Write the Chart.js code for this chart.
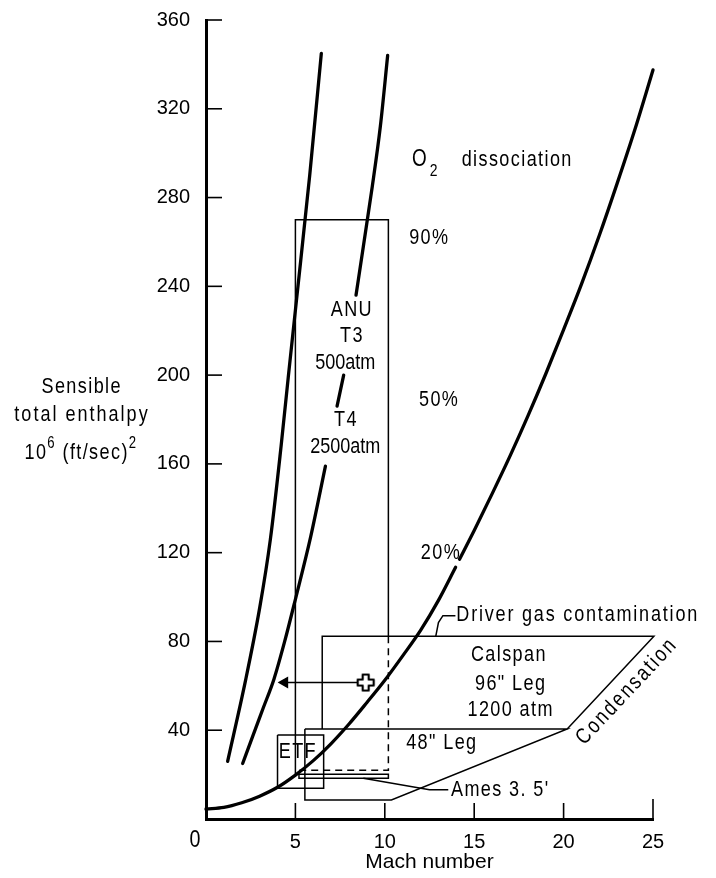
<!DOCTYPE html>
<html><head><meta charset="utf-8">
<script src="https://cdn.jsdelivr.net/npm/chart.js@4.4.1/dist/chart.umd.min.js"></script>
<style>html,body{margin:0;padding:0;background:#fff}canvas{display:block}</style>
</head><body>
<canvas id="c" width="716" height="878"></canvas>
<script>
const FONT = '"Liberation Sans", Arial, sans-serif';
const NARROW = 0.82;

// axes
const machTicks = [0, 5, 10, 15, 20, 25];
const enthalpyTicks = [0, 40, 80, 120, 160, 200, 240, 280, 320, 360];

// heavy curves (Mach number, sensible total enthalpy)
const curveAMach = [1.21, 2.2, 3.0, 3.6, 4.2, 4.6, 5.05, 5.8, 6.45];
const curveAH    = [26, 62, 95, 126, 168, 199, 233, 290, 345];
const curveBMach = [2.05, 2.6, 3.2, 3.8, 4.4, 5.0, 5.85, 6.68, 7.0, 7.33, 7.7, 8.0, 8.39, 8.8, 9.3, 9.75, 10.16];
const curveBH    = [25, 37, 50, 63, 80, 99, 127, 159, null, 186, 200, null, 236, 258, 285, 312, 344];
const mainMach = [0, 1, 2, 3, 4, 5, 6, 7, 8, 9, 10, 11, 12, 13, 13.96, 14.07, 14.18, 15, 16, 17, 18, 19, 20, 21, 22, 23, 24, 25, 25.15];
const mainH    = [4.5, 5.2, 7.3, 10.3, 14.3, 19.8, 26.3, 34, 42.8, 52.5, 62.5, 73.5, 85, 98.5, 113.4, null, 117, 130, 146.5, 163.5, 181.5, 200.5, 220.5, 241, 263, 286.5, 311, 337.5, 341.5];

// facility outlines
const anuMach = [10.2, 10.2, 5.0, 5.0];
const anuH    = [82.3, 270, 270, 20.2];
const anuT4Mach = [10.2, 10.2, 5.15];
const anuT4H    = [82.3, 22, 22];
const amesMach = [5.0, 10.2, 10.2, 5.2, 5.2];
const amesH    = [20.2, 20.2, 18.4, 18.4, 20.2];
const amesLeaderMach = [8.8, 12.5, 13.55];
const amesLeaderH    = [18.4, 13.2, 13.2];
const etfMach = [4.0, 6.58, 6.58, 4.0, 4.0];
const etfH    = [37.8, 37.8, 13.9, 13.9, 37.8];
const calspan96Mach = [6.5, 6.5, 25.05, 20.2];
const calspan96H    = [40.6, 82.3, 82.3, 40.6];
const calspan48Mach = [5.53, 20.2, 10.37, 5.53, 5.53];
const calspan48H    = [40.6, 40.6, 8.6, 8.6, 40.6];
const driverLeaderMach = [12.85, 13.0, 13.25, 13.95];
const driverLeaderH    = [82.3, 88.5, 91.6, 91.6];
const arrowMach = [8.45, 4.5];
const arrowH    = [61.5, 61.5];
const arrowHeadMach = [4.4];
const arrowHeadH    = [61.5];
const crossMach = [8.93];
const crossH    = [61.5];

// text annotations (Mach, enthalpy)
const annotations = [
  {t: '90%', m: 12.45, h: 262},
  {t: '50%', m: 13.0, h: 189},
  {t: '20%', m: 13.1, h: 120},
  {t: 'ANU', m: 8.12, h: 229.5},
  {t: 'T3', m: 8.12, h: 217.5},
  {t: '500atm', m: 7.79, h: 205.5, sp: 0},
  {t: 'T4', m: 7.79, h: 180},
  {t: '2500atm', m: 7.79, h: 167.5, sp: 0},
  {t: 'Calspan', m: 16.9, h: 73.7},
  {t: '96" Leg', m: 17.0, h: 61},
  {t: '1200 atm', m: 17.0, h: 49},
  {t: '48" Leg', m: 13.15, h: 34.4},
  {t: 'ETF', m: 5.1, h: 30.3},
  {t: 'Driver gas contamination', m: 14.0, h: 92, align: 'left', sp: 1.8},
  {t: "Ames 3. 5'", m: 13.7, h: 13, align: 'left'},
  {t: 'dissociation', m: 14.3, h: 297, align: 'left'}
];

function pts(xs, ys) { return xs.map((x, i) => ({x: x, y: ys[i]})); }
function poly(label, xs, ys, extra) {
  return Object.assign({label: label, data: pts(xs, ys), showLine: true, borderColor: '#000',
    backgroundColor: '#000', borderWidth: 1.5, pointRadius: 0, pointHoverRadius: 0, tension: 0,
    fill: false, clip: false}, extra || {});
}
function curve(label, xs, ys) {
  return poly(label, xs, ys, {borderWidth: 3.3, tension: 0.4, cubicInterpolationMode: 'monotone',
    spanGaps: false, borderCapStyle: 'round'});
}
function makeCross() {
  const c = document.createElement('canvas'); c.width = 20; c.height = 20;
  const g = c.getContext('2d'); const cx = 10, cy = 10, a = 3, b = 8;
  g.strokeStyle = '#000'; g.lineWidth = 2.2; g.lineJoin = 'round';
  g.beginPath();
  g.moveTo(cx - a, cy - b); g.lineTo(cx + a, cy - b); g.lineTo(cx + a, cy - a); g.lineTo(cx + b, cy - a);
  g.lineTo(cx + b, cy + a); g.lineTo(cx + a, cy + a); g.lineTo(cx + a, cy + b); g.lineTo(cx - a, cy + b);
  g.lineTo(cx - a, cy + a); g.lineTo(cx - b, cy + a); g.lineTo(cx - b, cy - a); g.lineTo(cx - a, cy - a);
  g.closePath(); g.stroke();
  return c;
}

const datasets = [
  curve('curve A', curveAMach, curveAH),
  curve('curve B', curveBMach, curveBH),
  curve('main', mainMach, mainH),
  poly('ANU', anuMach, anuH),
  poly('ANU T4', anuT4Mach, anuT4H, {borderDash: [7, 5]}),
  poly('Ames', amesMach, amesH),
  poly('Ames leader', amesLeaderMach, amesLeaderH),
  poly('ETF', etfMach, etfH),
  poly('Calspan 96', calspan96Mach, calspan96H),
  poly('Calspan 48', calspan48Mach, calspan48H),
  poly('Driver leader', driverLeaderMach, driverLeaderH),
  poly('arrow', arrowMach, arrowH),
  poly('arrow head', arrowHeadMach, arrowHeadH, {showLine: false, pointRadius: 5.5, pointStyle: 'triangle', pointRotation: 270}),
  poly('cross', crossMach, crossH, {showLine: false, pointRadius: 9, pointStyle: makeCross()})
];

// condensed text: regular sans squeezed horizontally
function drawText(ctx, s, x, y, align, size, spacing) {
  const sp = spacing === undefined ? 1.4 : spacing;
  ctx.save();
  ctx.translate(x, y);
  ctx.scale(NARROW, 1);
  ctx.font = size + 'px ' + FONT;
  ctx.letterSpacing = (sp / NARROW) + 'px';
  ctx.textAlign = align || 'center';
  ctx.textBaseline = 'middle';
  ctx.fillText(s, align === 'center' || !align ? sp / NARROW / 2 : 0, 0);
  ctx.restore();
}
function textWidth(ctx, s, size, spacing) {
  ctx.save(); ctx.font = size + 'px ' + FONT; ctx.letterSpacing = (spacing / NARROW) + 'px';
  const w = ctx.measureText(s).width * NARROW; ctx.restore(); return w;
}
function drawRich(ctx, parts, cx, cy) {
  let w = 0;
  parts.forEach(p => { p.size = p.sup ? 16 : 22; p.w = textWidth(ctx, p.t, p.size, 1.4); w += p.w; });
  let x = cx - w / 2;
  parts.forEach(p => { drawText(ctx, p.t, x, cy + (p.sup ? -9 : 0), 'left', p.size, 1.4); x += p.w; });
}

const deco = {
  id: 'deco',
  beforeDraw(chart) {
    const ctx = chart.ctx; ctx.save(); ctx.fillStyle = '#fff'; ctx.fillRect(0, 0, chart.width, chart.height); ctx.restore();
  },
  afterDraw(chart) {
    const ctx = chart.ctx; const {left, bottom} = chart.chartArea; const xs = chart.scales.x, ys = chart.scales.y;
    ctx.save();
    ctx.strokeStyle = '#000'; ctx.fillStyle = '#000'; ctx.lineWidth = 1.6;
    ys.ticks.forEach(t => { if (t.value === 0) return; const py = ys.getPixelForValue(t.value);
      ctx.beginPath(); ctx.moveTo(left, py); ctx.lineTo(left + 16, py); ctx.stroke(); });
    xs.ticks.forEach(t => { if (t.value === 0) return; const px = xs.getPixelForValue(t.value);
      ctx.beginPath(); ctx.moveTo(px, bottom); ctx.lineTo(px, bottom - (t.value === 25 ? 20 : 16)); ctx.stroke(); });
    // x tick label "0", set slightly left of the axis as in the original
    drawText(ctx, '0', xs.getPixelForValue(0) - 11, bottom + 21, 'center', 24, 0);
    annotations.forEach(a => drawText(ctx, a.t, xs.getPixelForValue(a.m), ys.getPixelForValue(a.h), a.align || 'center', 22, a.sp));
    // O2 dissociation
    const ox = xs.getPixelForValue(11.52), oy = ys.getPixelForValue(297);
    drawText(ctx, 'O', ox, oy, 'left', 23, 0);
    drawText(ctx, '2', ox + textWidth(ctx, 'O', 23, 0) + 3, oy + 11, 'left', 17, 0);
    // Condensation along the slanted edge
    const p1x = xs.getPixelForValue(20.2), p1y = ys.getPixelForValue(40.6);
    const p2x = xs.getPixelForValue(25.05), p2y = ys.getPixelForValue(82.3);
    const ang = Math.atan2(p2y - p1y, p2x - p1x);
    ctx.save();
    ctx.translate(xs.getPixelForValue(23.5), ys.getPixelForValue(57.2));
    ctx.rotate(ang);
    drawText(ctx, 'Condensation', 0, 0, 'center', 22, 2.2);
    ctx.restore();
    // y axis title
    const tx = left - 125;
    drawText(ctx, 'Sensible', tx, ys.getPixelForValue(194.7), 'center', 22);
    drawText(ctx, 'total enthalpy', tx, ys.getPixelForValue(182), 'center', 22, 2.0);
    drawRich(ctx, [{t: '10'}, {t: '6', sup: true}, {t: ' (ft/sec)'}, {t: '2', sup: true}], tx, ys.getPixelForValue(165));
    ctx.restore();
  }
};

Chart.defaults.color = '#000';
Chart.defaults.font.family = FONT;

new Chart(document.getElementById('c'), {
  type: 'scatter',
  data: {datasets: datasets},
  options: {
    responsive: false, animation: false, events: [],
    layout: {padding: {top: 20, right: 63, bottom: 0, left: 0}},
    plugins: {legend: {display: false}, tooltip: {enabled: false}},
    scales: {
      x: {
        type: 'linear', min: machTicks[0], max: machTicks[machTicks.length - 1],
        afterBuildTicks: s => { s.ticks = machTicks.map(v => ({value: v})); },
        afterFit: s => { s.height = 59; },
        grid: {display: false}, border: {display: true, color: '#000', width: 3},
        ticks: {padding: 3, font: {size: 20}, color: '#000', callback: v => v === 0 ? '' : v},
        title: {display: true, text: 'Mach number', font: {size: 21}, color: '#000', padding: {top: 0, bottom: 3}}
      },
      y: {
        type: 'linear', min: enthalpyTicks[0], max: enthalpyTicks[enthalpyTicks.length - 1],
        afterBuildTicks: s => { s.ticks = enthalpyTicks.map(v => ({value: v})); },
        afterFit: s => { s.width = 206; },
        grid: {display: false}, border: {display: true, color: '#000', width: 3},
        ticks: {padding: 8, font: {size: 20}, color: '#000', callback: v => v === 0 ? '' : v}
      }
    }
  },
  plugins: [deco]
});
</script>
</body></html>
